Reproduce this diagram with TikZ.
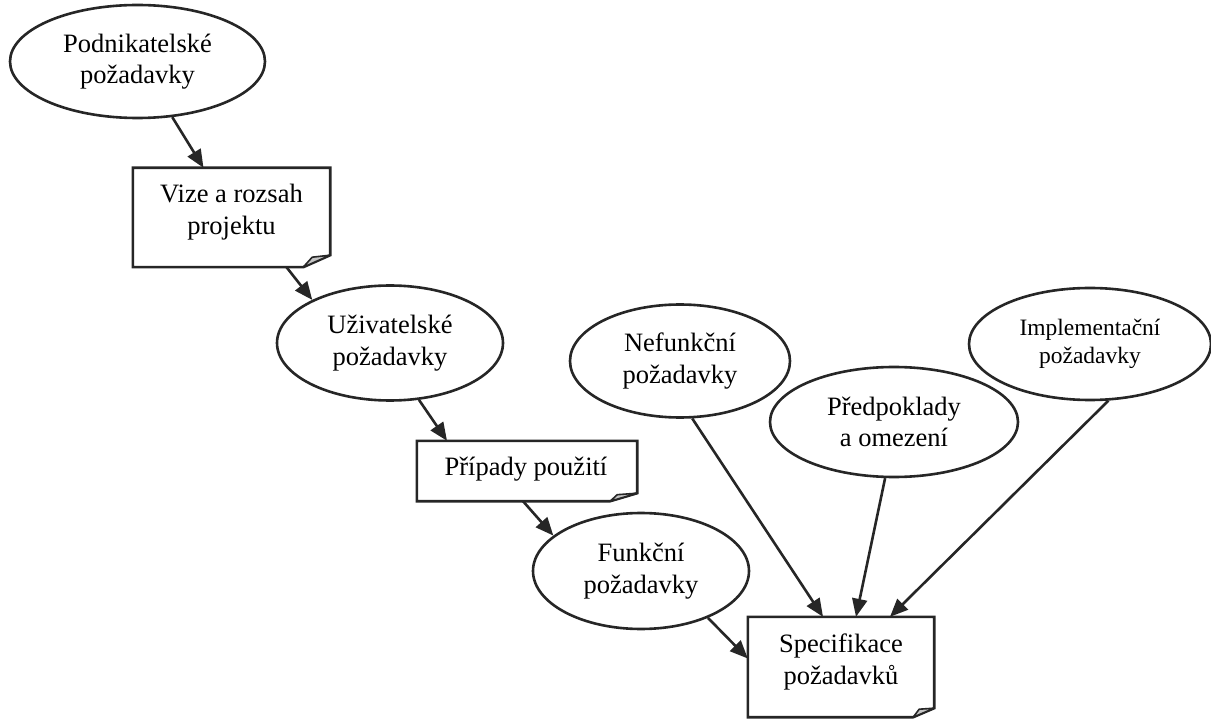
\documentclass[tikz,border=0pt]{standalone}
\usepackage{fontspec}
\setmainfont{Liberation Serif}
\usetikzlibrary{shapes.geometric,arrows.meta}
\definecolor{ink}{HTML}{262626}
\definecolor{foldgray}{HTML}{C4C4C4}

\begin{document}
\begin{tikzpicture}[x=1pt,y=-1pt,
  every node/.style={font=\fontsize{26.5}{31.5}\selectfont, text=black, align=center, inner sep=0pt},
  oval/.style={ellipse, draw=ink, line width=2.6pt, fill=white},
  docbox/.style={rectangle, draw=none},
  outline/.style={draw=ink, line width=2.6pt, line join=miter, fill=white},
  fold/.style={draw=ink, line width=1.6pt, line join=round, fill=foldgray},
  flow/.style={draw=ink, line width=2.6pt, -{Triangle[length=18pt,width=15pt]}},
  small/.style={font=\fontsize{23.5}{28.5}\selectfont}]

\useasboundingbox (0,0) rectangle (1211,719);

% ellipses
\node[oval, minimum width=255pt, minimum height=113pt] (biz) at (137.5,61.5) {Podnikatelské\\požadavky};
\node[oval, minimum width=226pt, minimum height=115pt] (user) at (390,343) {Uživatelské\\požadavky};
\node[oval, minimum width=216pt, minimum height=116pt] (func) at (641,571) {Funkční\\požadavky};
\node[oval, minimum width=220pt, minimum height=113pt] (nonf) at (680,361) {Nefunkční\\požadavky};
\node[oval, minimum width=248pt, minimum height=110pt] (assum) at (894,422) {Předpoklady\\a omezení};
\node[oval, small, minimum width=242pt, minimum height=112pt] (impl) at (1090,344) {Implementační\\požadavky};

% document boxes with a folded corner
\node[docbox, minimum width=197pt, minimum height=99pt] (vize) at (231.5,217.5) {};
\draw[outline] (vize.north west) -- (vize.north east) -- ([yshift=12pt]vize.south east)
  -- ([xshift=-27pt]vize.south east) -- (vize.south west) -- cycle;
\draw[fold] ([xshift=-27pt]vize.south east) -- ([xshift=-18pt,yshift=10pt]vize.south east)
  -- ([yshift=12pt]vize.south east) -- cycle;
\node (vizet) at (231.5,212) {Vize a rozsah\\projektu};

\node[docbox, minimum width=220pt, minimum height=60pt] (cases) at (527,471) {};
\draw[outline] (cases.north west) -- (cases.north east) -- ([yshift=8pt]cases.south east)
  -- ([xshift=-27pt]cases.south east) -- (cases.south west) -- cycle;
\draw[fold] ([xshift=-27pt]cases.south east) -- ([xshift=-20pt,yshift=6.5pt]cases.south east)
  -- ([yshift=8pt]cases.south east) -- cycle;
\node (casest) at (526,469) {Případy použití};

\node[docbox, minimum width=186pt, minimum height=100pt] (spec) at (841,667) {};
\draw[outline] (spec.north west) -- (spec.north east) -- ([yshift=9pt]spec.south east)
  -- ([xshift=-21pt]spec.south east) -- (spec.south west) -- cycle;
\draw[fold] ([xshift=-21pt]spec.south east) -- ([xshift=-15pt,yshift=8pt]spec.south east)
  -- ([yshift=9pt]spec.south east) -- cycle;
\node (spect) at (841,662) {Specifikace\\požadavků};

% connectors
\draw[flow] (biz.-58) -- ([xshift=-28pt]vize.north);
\draw[flow] ([xshift=55pt]vize.south) -- (user.151);
\draw[flow] (user.-63) -- ([xshift=-80pt]cases.north);
\draw[flow] ([xshift=-4pt]cases.south) -- (func.158.9);
\draw[flow] (func.-35) -- ([yshift=8.5pt]spec.west);
\draw[flow] (nonf.-78) -- ([xshift=-18pt]spec.north);
\draw[flow] (assum.-99.5) -- ([xshift=15pt]spec.north);
\draw[flow] (impl.-72) -- ([xshift=49pt]spec.north);
\end{tikzpicture}
\end{document}
